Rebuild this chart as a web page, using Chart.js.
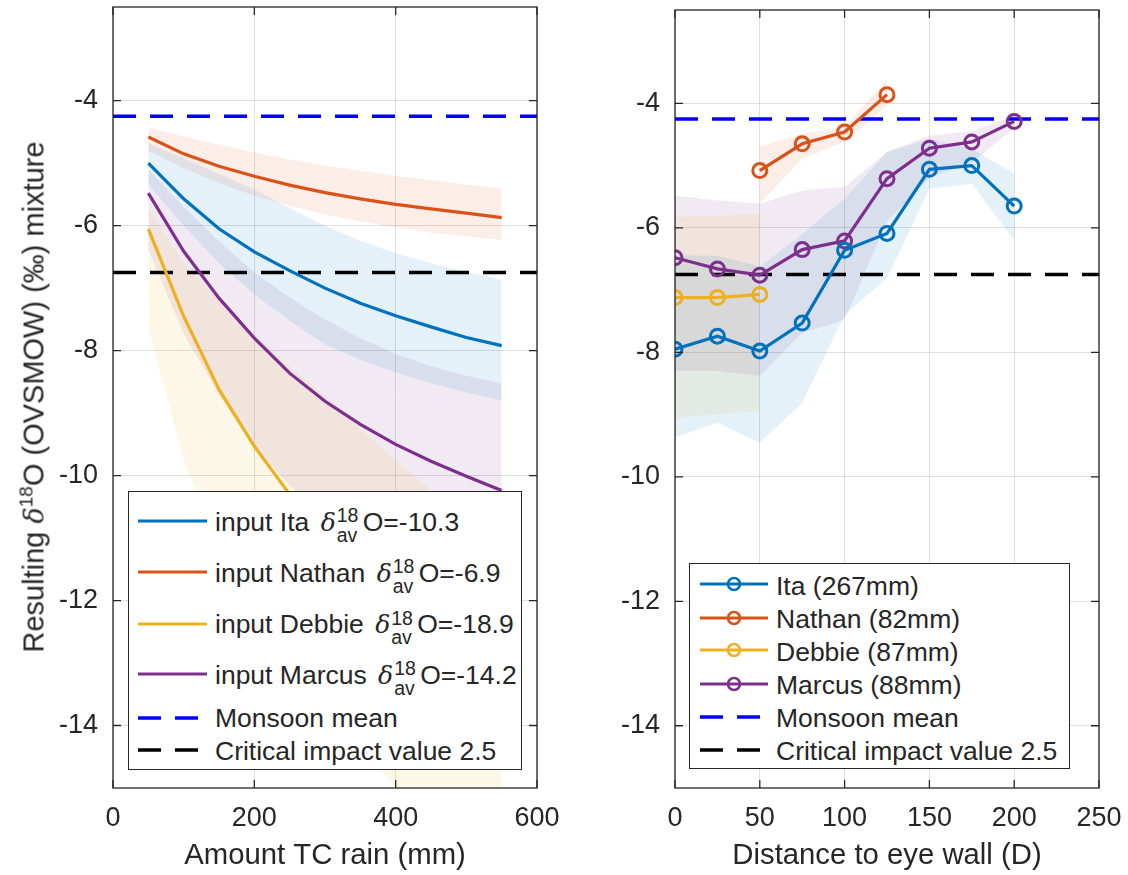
<!DOCTYPE html>
<html>
<head>
<meta charset="utf-8">
<script src="https://cdn.jsdelivr.net/npm/chart.js@4.4.0/dist/chart.umd.min.js"></script>
<style>
  body { margin: 0; background: #fff; width: 1128px; height: 875px; position: relative; overflow: hidden;
         font-family: 'Liberation Sans', Arial, sans-serif; color: #262626; }
  canvas { position: absolute; top: 0; }
  #leftChart { left: 0; }
  #rightChart { left: 580px; }
  .legend { position: absolute; background: #fff; border: 1.3px solid #262626; box-sizing: border-box; }
  .legend svg { position: absolute; overflow: visible; }
  .row { position: absolute; left: 0; font-size: 26.5px; line-height: 30px; white-space: nowrap; }
  .dl { font-family: 'DejaVu Serif', 'Liberation Serif', serif; font-style: italic; font-size: 25px; margin-left: 4px; }
  .ss { position: relative; display: inline-block; width: 27px; }
  .ss .up { position: absolute; left: 1px; bottom: 5px; font-size: 19.5px; line-height: 1; }
  .ss .dn { position: absolute; left: 1px; top: -5px; font-size: 19.5px; line-height: 1; }
  #ytitle { position: absolute; left: 34px; top: 397px; transform: translate(-50%, -50%) rotate(-90deg);
            white-space: nowrap; font-size: 29px; line-height: 32px; }
  #ytitle .d { font-family: 'DejaVu Serif', 'Liberation Serif', serif; font-style: italic; font-size: 27px; }
  #ytitle sup { font-size: 19px; vertical-align: 11px; line-height: 0; }
</style>
</head>
<body>
<canvas id="leftChart" width="580" height="875"></canvas>
<canvas id="rightChart" width="548" height="875"></canvas>
<div id="ytitle">Resulting <span class="d">δ</span><sup>18</sup>O (OVSMOW) (‰) mixture</div>
<div id="legendLeft" class="legend"></div>
<div id="legendRight" class="legend"></div>
<script>
// storms and their colours
const STORMS = ['Ita', 'Nathan', 'Debbie', 'Marcus'];
const COLORS = ['#0072BD', '#D95319', '#EDB120', '#7E2F8E'];
const INPUT_D18O = [-10.3, -6.9, -18.9, -14.2];
const RAIN_TOTAL = [267, 82, 87, 88];

// reference levels
const MONSOON_MEAN = -4.25;
const CRITICAL_VALUE = -6.75;

// axis ticks
const Y_TICKS = [-14, -12, -10, -8, -6, -4];
const X_TICKS_RAIN = [0, 200, 400, 600];
const X_TICKS_DIST = [0, 50, 100, 150, 200, 250];

// mixing model: amount of TC rain (mm)
const RAIN = [50, 100, 150, 200, 250, 300, 350, 400, 450, 500, 550];
const MIX_ITA        = [-5.0, -5.57, -6.05, -6.42, -6.72, -7.0, -7.24, -7.44, -7.62, -7.79, -7.92];
const MIX_ITA_HI     = [-4.68, -4.92, -5.17, -5.42, -5.72, -6.0, -6.24, -6.44, -6.6, -6.74, -6.86];
const MIX_ITA_LO     = [-5.35, -6.0, -6.6, -7.1, -7.52, -7.9, -8.15, -8.35, -8.52, -8.67, -8.8];
const MIX_NATHAN     = [-4.58, -4.85, -5.05, -5.21, -5.35, -5.47, -5.57, -5.66, -5.73, -5.8, -5.87];
const MIX_NATHAN_HI  = [-4.43, -4.57, -4.71, -4.83, -4.94, -5.04, -5.12, -5.2, -5.27, -5.34, -5.4];
const MIX_NATHAN_LO  = [-4.8, -5.08, -5.32, -5.52, -5.68, -5.82, -5.93, -6.03, -6.11, -6.17, -6.23];
const MIX_DEBBIE     = [-6.05, -7.45, -8.62, -9.53, -10.3, -10.97, -11.52, -12.0, -12.4, -12.76, -13.1];
const MIX_DEBBIE_HI  = [-5.7, -6.6, -7.2, -7.75, -8.25, -8.72, -9.25, -9.75, -10.24, -10.7, -11.1];
const MIX_DEBBIE_LO  = [-7.64, -9.75, -11.2, -12.2, -13.0, -13.7, -14.3, -15.0, -15.6, -16.1, -16.6];
const MIX_MARCUS     = [-5.48, -6.41, -7.16, -7.8, -8.36, -8.81, -9.18, -9.5, -9.77, -10.01, -10.24];
const MIX_MARCUS_HI  = [-5.1, -5.7, -6.25, -6.75, -7.15, -7.5, -7.8, -8.05, -8.25, -8.4, -8.52];
const MIX_MARCUS_LO  = [-6.38, -7.73, -8.7, -9.55, -10.15, -10.7, -11.2, -11.6, -12.0, -12.3, -12.6];

// observations: distance to eye wall (D)
const DIST_ITA = [0, 25, 50, 75, 100, 125, 150, 175, 200];
const OBS_ITA    = [-7.95, -7.74, -7.98, -7.53, -6.36, -6.09, -5.06, -5.0, -5.65];
const OBS_ITA_HI = [-6.44, -6.45, -6.62, -6.1, -5.53, -4.78, -4.57, -4.73, -5.13];
const OBS_ITA_LO = [-9.37, -9.13, -9.45, -8.81, -7.4, -6.81, -5.37, -5.29, -6.2];
const DIST_NATHAN = [50, 75, 100, 125];
const OBS_NATHAN    = [-5.08, -4.65, -4.46, -3.86];
const OBS_NATHAN_HI = [-4.7, -4.49, -4.38, -3.61];
const OBS_NATHAN_LO = [-5.61, -4.89, -4.62, -4.04];
const DIST_DEBBIE = [0, 25, 50];
const OBS_DEBBIE    = [-7.12, -7.12, -7.07];
const OBS_DEBBIE_HI = [-5.82, -5.8, -5.78];
const OBS_DEBBIE_LO = [-9.05, -9.0, -8.94];
const DIST_MARCUS = [0, 25, 50, 75, 100, 125, 150, 175, 200];
const OBS_MARCUS    = [-6.48, -6.66, -6.76, -6.35, -6.21, -5.21, -4.72, -4.62, -4.29];
const OBS_MARCUS_HI = [-5.48, -5.56, -5.61, -5.4, -5.34, -4.78, -4.52, -4.45, -4.2];
const OBS_MARCUS_LO = [-8.3, -8.3, -8.38, -7.69, -7.48, -5.9, -5.2, -4.95, -4.4];

const FONT = "'Liberation Sans', Arial, sans-serif";
const INK = '#262626';

function pts(xs, ys) {
  return xs.map((x, i) => ({ x: x, y: ys[i] }));
}

function alpha(hex, a) {
  const n = parseInt(hex.slice(1), 16);
  return `rgba(${n >> 16},${(n >> 8) & 255},${n & 255},${a})`;
}

// shaded range: upper edge filled down to the lower edge right after it
function band(xs, hi, lo, color) {
  return [
    { data: pts(xs, hi), borderWidth: 0, pointRadius: 0, fill: '+1', backgroundColor: alpha(color, 0.1) },
    { data: pts(xs, lo), borderWidth: 0, pointRadius: 0, fill: false }
  ];
}

function refLine(x0, x1, y, color) {
  return { data: [{ x: x0, y: y }, { x: x1, y: y }], borderColor: color, borderWidth: 3.5,
           borderDash: [23, 14], pointRadius: 0, fill: false };
}

// box around the plot with inward tick marks on all sides
const boxTicks = {
  id: 'boxTicks',
  afterDraw(chart) {
    const { ctx, chartArea: a, scales: { x, y } } = chart;
    ctx.save();
    ctx.strokeStyle = INK;
    ctx.lineWidth = 1.3;
    ctx.beginPath();
    x.ticks.forEach(t => {
      const px = x.getPixelForValue(t.value);
      ctx.moveTo(px, a.bottom); ctx.lineTo(px, a.bottom - 8);
      ctx.moveTo(px, a.top); ctx.lineTo(px, a.top + 8);
    });
    y.ticks.forEach(t => {
      const py = y.getPixelForValue(t.value);
      ctx.moveTo(a.left, py); ctx.lineTo(a.left + 8, py);
      ctx.moveTo(a.right, py); ctx.lineTo(a.right - 8, py);
    });
    ctx.stroke();
    ctx.strokeRect(a.left, a.top, a.right - a.left, a.bottom - a.top);
    ctx.restore();
  }
};

function makePanel(id, datasets, xMax, xTicks, xTitle, yWidth, padRight) {
  return new Chart(document.getElementById(id), {
    type: 'line',
    data: { datasets: datasets },
    options: {
      responsive: false,
      animation: false,
      layout: { padding: { top: 7, right: padRight, left: 0, bottom: 0 } },
      plugins: {
        legend: { display: false },
        tooltip: { enabled: false },
        filler: { drawTime: 'beforeDatasetsDraw' }
      },
      scales: {
        x: {
          type: 'linear', min: 0, max: xMax,
          afterBuildTicks: s => { s.ticks = xTicks.map(v => ({ value: v })); },
          afterFit: s => { s.height = 87; s.paddingLeft = 0; s.paddingRight = 0; },
          grid: { color: 'rgba(38,38,38,0.15)', drawTicks: false },
          border: { display: false },
          ticks: { color: INK, font: { family: FONT, size: 27 }, padding: 14, maxRotation: 0 },
          title: { display: true, text: xTitle, color: INK, font: { family: FONT, size: 29.3 },
                   padding: { top: 0, bottom: 2 } }
        },
        y: {
          type: 'linear', min: -15, max: -2.5,
          afterBuildTicks: s => { s.ticks = Y_TICKS.map(v => ({ value: v })); },
          afterFit: s => { s.width = yWidth; s.paddingTop = 0; s.paddingBottom = 0; },
          grid: { color: 'rgba(38,38,38,0.15)', drawTicks: false },
          border: { display: false },
          ticks: { color: INK, font: { family: FONT, size: 27 }, padding: 15 }
        }
      }
    },
    plugins: [boxTicks]
  });
}

// left panel: mixing model against TC rain amount
const mixHi = [MIX_ITA_HI, MIX_NATHAN_HI, MIX_DEBBIE_HI, MIX_MARCUS_HI];
const mixLo = [MIX_ITA_LO, MIX_NATHAN_LO, MIX_DEBBIE_LO, MIX_MARCUS_LO];
const mixMid = [MIX_ITA, MIX_NATHAN, MIX_DEBBIE, MIX_MARCUS];
const leftSets = [];
STORMS.forEach((s, i) => leftSets.push(...band(RAIN, mixHi[i], mixLo[i], COLORS[i])));
STORMS.forEach((s, i) => leftSets.push({
  data: pts(RAIN, mixMid[i]), borderColor: COLORS[i], borderWidth: 3.2, pointRadius: 0, fill: false
}));
leftSets.push(refLine(0, 600, MONSOON_MEAN, '#0000FF'));
leftSets.push(refLine(0, 600, CRITICAL_VALUE, '#000000'));
makePanel('leftChart', leftSets, 600, X_TICKS_RAIN, 'Amount TC rain (mm)', 113, 43);

// right panel: observations against distance to the eye wall
const obsX = [DIST_ITA, DIST_NATHAN, DIST_DEBBIE, DIST_MARCUS];
const obsHi = [OBS_ITA_HI, OBS_NATHAN_HI, OBS_DEBBIE_HI, OBS_MARCUS_HI];
const obsLo = [OBS_ITA_LO, OBS_NATHAN_LO, OBS_DEBBIE_LO, OBS_MARCUS_LO];
const obsMid = [OBS_ITA, OBS_NATHAN, OBS_DEBBIE, OBS_MARCUS];
const rightSets = [];
STORMS.forEach((s, i) => rightSets.push(...band(obsX[i], obsHi[i], obsLo[i], COLORS[i])));
STORMS.forEach((s, i) => rightSets.push({
  data: pts(obsX[i], obsMid[i]), borderColor: COLORS[i], borderWidth: 3.2, fill: false,
  pointRadius: 7, pointHoverRadius: 7, pointBorderWidth: 3,
  pointBorderColor: COLORS[i], pointBackgroundColor: 'rgba(0,0,0,0)'
}));
rightSets.push(refLine(0, 250, MONSOON_MEAN, '#0000FF'));
rightSets.push(refLine(0, 250, CRITICAL_VALUE, '#000000'));
makePanel('rightChart', rightSets, 250, X_TICKS_DIST, 'Distance to eye wall (D)', 95, 29);

// legends
function sample(kind, color, y, x0, x1) {
  let inner = '';
  if (kind === 'dash') {
    inner = `<line x1="0" y1="6" x2="23" y2="6" stroke="${color}" stroke-width="3.5"/>` +
            `<line x1="37" y1="6" x2="60" y2="6" stroke="${color}" stroke-width="3.5"/>`;
  } else {
    inner = `<line x1="0" y1="6" x2="${x1 - x0}" y2="6" stroke="${color}" stroke-width="3"/>`;
    if (kind === 'marker') {
      inner += `<circle cx="${(x1 - x0) / 2}" cy="6" r="6" fill="none" stroke="${color}" stroke-width="2.5"/>`;
    }
  }
  return `<svg style="left:${x0}px;top:${y - 6}px" width="${x1 - x0}" height="12">${inner}</svg>`;
}

function buildLegend(el, box, rows, textLeft, lineX0, lineX1) {
  el.style.left = box[0] + 'px';
  el.style.top = box[1] + 'px';
  el.style.width = box[2] + 'px';
  el.style.height = box[3] + 'px';
  el.innerHTML = rows.map(r =>
    sample(r.kind, r.color, r.lineY - box[1], lineX0 - box[0], lineX1 - box[0]) +
    `<div class="row" style="left:${textLeft - box[0]}px;top:${r.base - box[1] - 24}px">${r.html}</div>`
  ).join('');
}

const leftRows = STORMS.map((s, i) => ({
  kind: 'line', color: COLORS[i],
  html: `input ${s} <span class="dl">δ</span><span class="ss"><span class="up">18</span><span class="dn">av</span></span>O=${INPUT_D18O[i].toFixed(1)}`
}));
leftRows.push({ kind: 'dash', color: '#0000FF', html: 'Monsoon mean' });
leftRows.push({ kind: 'dash', color: '#000000', html: 'Critical impact value 2.5' });
const leftBase = [529.5, 580.5, 632, 682.8, 726, 758.5];
const leftLineY = [520, 570.7, 622.7, 673.3, 716.5, 749.3];
leftRows.forEach((r, i) => { r.base = leftBase[i]; r.lineY = leftLineY[i]; });
buildLegend(document.getElementById('legendLeft'), [128, 491, 394, 279], leftRows, 214, 137, 206);

const rightRows = STORMS.map((s, i) => ({
  kind: 'marker', color: COLORS[i], html: `${s} (${RAIN_TOTAL[i]}mm)`
}));
rightRows.push({ kind: 'dash', color: '#0000FF', html: 'Monsoon mean' });
rightRows.push({ kind: 'dash', color: '#000000', html: 'Critical impact value 2.5' });
const rightBase = [594, 627, 660, 693, 726, 759];
const rightLineY = [583.3, 616.7, 649.3, 682.7, 716, 749.3];
rightRows.forEach((r, i) => { r.base = rightBase[i]; r.lineY = rightLineY[i]; });
buildLegend(document.getElementById('legendRight'), [689, 563, 381, 206], rightRows, 775, 699, 767);
</script>
</body>
</html>
